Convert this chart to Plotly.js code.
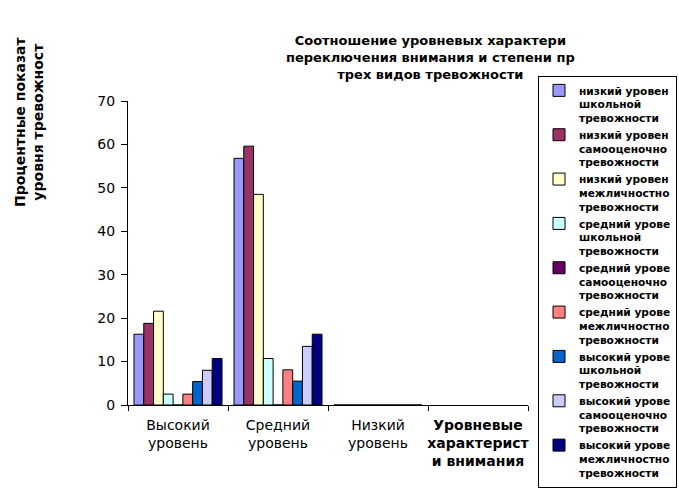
<!DOCTYPE html>
<html>
<head>
<meta charset="utf-8">
<script src="https://cdn.plot.ly/plotly-3.0.1.min.js"></script>
<style>html,body{margin:0;padding:0;background:#fff;}#chart{width:679px;height:492px;}</style>
</head>
<body>
<div id="chart"></div>
<script>
const categories = ["Высокий<br>уровень", "Средний<br>уровень", "Низкий<br>уровень", "<b>Уровневые<br>характерист<br>и внимания</b>"];
const seriesNames = [
  "низкий уровен<br>школьной<br>тревожности",
  "низкий уровен<br>самооценочно<br>тревожности",
  "низкий уровен<br>межличностно<br>тревожности",
  "средний урове<br>школьной<br>тревожности",
  "средний урове<br>самооценочно<br>тревожности",
  "средний урове<br>межличностно<br>тревожности",
  "высокий урове<br>школьной<br>тревожности",
  "высокий урове<br>самооценочно<br>тревожности",
  "высокий урове<br>межличностно<br>тревожности"
];
const lowSchool      = [16.3, 56.8, 0, null];
const lowSelf        = [18.8, 59.6, 0, null];
const lowInter       = [21.6, 48.5, 0, null];
const midSchool      = [2.5, 10.7, 0, null];
const midSelf        = [0, 0, 0, null];
const midInter       = [2.5, 8.1, 0, null];
const highSchool     = [5.4, 5.5, 0, null];
const highSelf       = [8.0, 13.5, 0, null];
const highInter      = [10.7, 16.3, 0, null];
const seriesValues = [lowSchool, lowSelf, lowInter, midSchool, midSelf, midInter, highSchool, highSelf, highInter];
const colors = ["#9999FF", "#993366", "#FFFFCC", "#CCFFFF", "#660066", "#FF8080", "#0066CC", "#CCCCFF", "#000080"];
const yTicks = [0, 10, 20, 30, 40, 50, 60, 70];

const traces = seriesValues.map((vals, i) => ({
  type: "bar",
  x: categories,
  y: vals,
  name: seriesNames[i],
  marker: {color: colors[i], line: {color: "#000", width: 1}},
  hoverinfo: "none"
}));

const layout = {
  width: 679, height: 492,
  margin: {l: 128, r: 151, t: 101, b: 87, pad: 0, autoexpand: false},
  paper_bgcolor: "#fff", plot_bgcolor: "#fff",
  font: {family: "DejaVu Sans", color: "#000", size: 14},
  bargap: 0.12, bargroupgap: 0,
  xaxis: {
    type: "category", range: [-0.5, 3.5], automargin: false,
    showline: true, linecolor: "#000", linewidth: 1,
    ticks: "outside", tickson: "boundaries", ticklen: 5, tickcolor: "#000",
    tickangle: 0, ticklabelstandoff: 7,
    showgrid: false, zeroline: false,
    tickfont: {family: "DejaVu Sans", size: 14}
  },
  yaxis: {
    range: [0, 70], tickvals: yTicks, ticktext: yTicks.map(String), automargin: false,
    showline: true, linecolor: "#000", linewidth: 1,
    ticks: "outside", ticklen: 6, tickcolor: "#000", ticklabelstandoff: 3,
    showgrid: false, zeroline: false,
    tickfont: {family: "DejaVu Sans", size: 14}
  },
  showlegend: true,
  legend: {
    xref: "container", yref: "container",
    x: 538 / 679, xanchor: "left", y: 1 - 76 / 492, yanchor: "top",
    bordercolor: "#000", borderwidth: 1, bgcolor: "#fff",
    font: {family: "DejaVu Sans", size: 10.6, color: "#000", weight: "bold"},
    valign: "top", traceorder: "normal", itemwidth: 30, maxheight: 440
  },
  annotations: [{
    text: "<b>Соотношение уровневых характери<br>переключения внимания и степени пр<br>трех видов тревожности</b>",
    showarrow: false, xref: "paper", yref: "paper",
    x: (430 - 128) / 400, xanchor: "center",
    y: (405 - 57) / 304, yanchor: "middle",
    font: {family: "DejaVu Sans", size: 13, color: "#000"}
  }, {
    text: "<b>Процентные показат<br>уровня тревожност</b>",
    textangle: -90, showarrow: false,
    xref: "paper", yref: "paper",
    x: (29 - 128) / 400, xanchor: "center",
    y: (405 - 122) / 304, yanchor: "middle",
    font: {family: "DejaVu Sans", size: 14, color: "#000"}
  }]
};

Plotly.newPlot("chart", traces, layout, {staticPlot: true, displayModeBar: false});
</script>
</body>
</html>
